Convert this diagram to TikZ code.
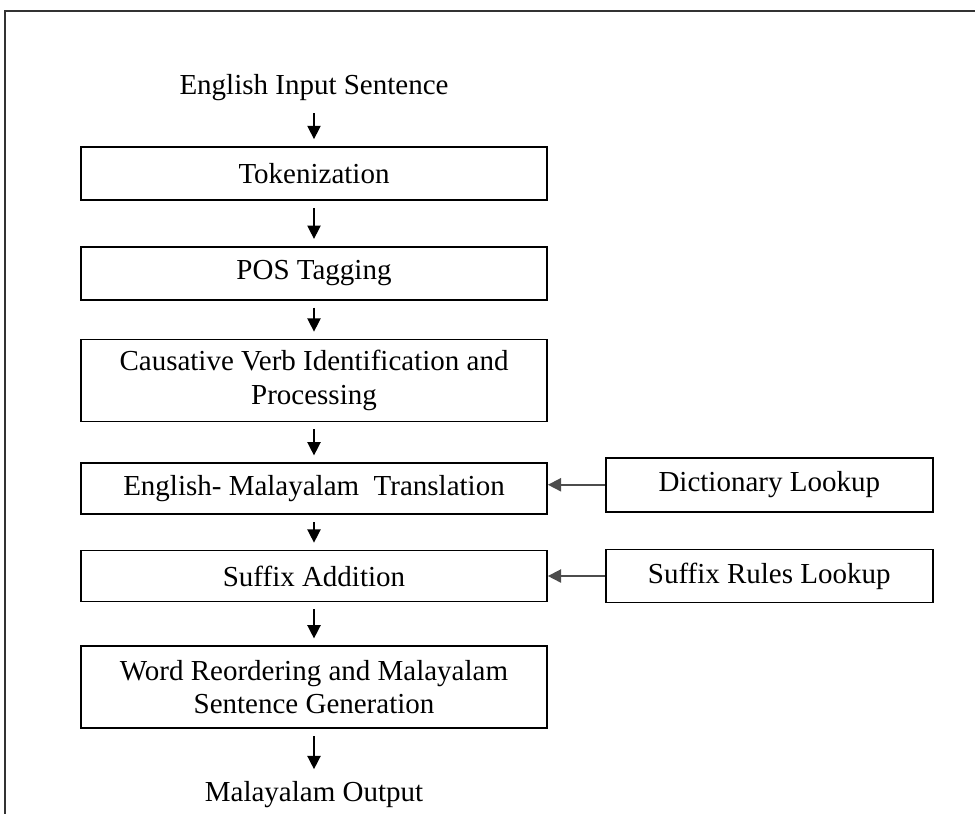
\documentclass[tikz,border=0pt]{standalone}
\usepackage{fontspec}
\setmainfont{Liberation Serif}
\usepackage{xcolor}
\usepackage{tikz}
\usetikzlibrary{arrows.meta,positioning}

\begin{document}
\begin{tikzpicture}[
        node distance=0.8cm,
        >={Triangle[length=7.5pt,width=7.5pt]},
        every node/.style={font=\fontsize{16.5}{19}\selectfont},
        block/.style={rectangle, draw, line width=1pt, minimum width=9.32cm, align=center, minimum height=1.06cm},
        twoline/.style={block, minimum height=1.64cm},
        lookup/.style={rectangle, draw, line width=1pt, minimum width=6.54cm, align=center, minimum height=1.08cm},
        plain/.style={inner sep=3pt},
        flow/.style={->, line width=0.8pt, shorten <=0.14cm, shorten >=0.14cm},
        feed/.style={->, line width=1pt, black!70}
    ]
        \useasboundingbox (0,0) rectangle (19.5,-16.28);

        % Frame
        \draw[line width=1pt, black!80] (0.1,-16.28) -- (0.1,-0.22) -- (19.5,-0.22);

        % Tokenization
        \node [block] (tok) at (6.28,-3.47) {Tokenization};

        % Input sentence
        \node [plain, above=0.8cm of tok] (input) {English Input Sentence};

        % POS Tagging
        \node [block, below=0.9cm of tok] (pos) {POS Tagging};

        % Causative verbs
        \node [twoline, below=0.76cm of pos] (causative) {Causative Verb Identification and\\Processing};

        % Translation
        \node [block, minimum height=1.02cm, below=0.8cm of causative] (translation) {English- Malayalam~ Translation};

        % Suffix Addition
        \node [block, minimum height=1.02cm, below=0.69cm of translation] (suffix) {Suffix Addition};

        % Reordering
        \node [twoline, below=0.86cm of suffix] (reorder) {Word Reordering and Malayalam\\Sentence Generation};

        % Output
        \node [plain, below=0.94cm of reorder] (output) {Malayalam Output};

        % Lookups
        \node [lookup, right=1.14cm of translation, yshift=0.08cm] (dictionary) {Dictionary Lookup};
        \node [lookup, minimum height=1.06cm, right=1.14cm of suffix] (rules) {Suffix Rules Lookup};

        % Arrows
        \draw [flow] (input) -- (tok);
        \draw [flow] (tok) -- (pos);
        \draw [flow] (pos) -- (causative);
        \draw [flow] (causative) -- (translation);
        \draw [flow] (translation) -- (suffix);
        \draw [flow] (suffix) -- (reorder);
        \draw [flow] (reorder) -- (output);
        \draw [feed] (dictionary.west) -- (dictionary.west -| translation.east);
        \draw [feed] (rules.west) -- (rules.west -| suffix.east);

    \end{tikzpicture}
\end{document}
